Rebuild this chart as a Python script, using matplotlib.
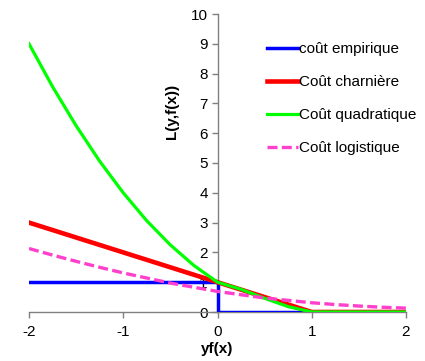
import matplotlib
matplotlib.use("Agg")
import matplotlib.pyplot as plt

plt.rcParams['font.family'] = ['Liberation Sans', 'DejaVu Sans']

# Data
x_emp = [-2, 0, 0, 2]
y_emp = [1, 1, 0, 0]

x_hinge = [-2, 0, 1, 2]
y_hinge = [3, 1, 0, 0]

x_quad = [-2, -1.75, -1.5, -1.25, -1, -0.75, -0.5, -0.25, 0, 0.25, 0.5, 0.75, 1, 1.5, 2]
y_quad = [9, 7.56, 6.25, 5.06, 4, 3.06, 2.25, 1.56, 1, 0.76, 0.46, 0.18, 0, 0, 0]

x_log = [-2, -1.75, -1.5, -1.25, -1, -0.75, -0.5, -0.25, 0, 0.25, 0.5, 0.75, 1, 1.25, 1.5, 1.75, 2]
y_log = [2.13, 1.91, 1.70, 1.50, 1.31, 1.14, 0.97, 0.83, 0.69, 0.58, 0.47, 0.39, 0.31, 0.25, 0.20, 0.16, 0.13]

labels = ["coût empirique", "Coût charnière", "Coût quadratique", "Coût logistique"]
x_ticks = [-2, -1, 0, 1, 2]
y_ticks = list(range(0, 11))

fig = plt.figure(figsize=(4.25, 3.61), dpi=100)
ax = fig.add_axes([29/425, 1-312/361, (406-29)/425, (312-14)/361])

ax.plot(x_emp, y_emp, color='#0000FF', lw=2.5, label=labels[0], zorder=3)
ax.plot(x_hinge, y_hinge, color='#FF0000', lw=3.3, label=labels[1], zorder=4)
ax.plot(x_quad, y_quad, color='#00FF00', lw=2.3, label=labels[2], zorder=5)
ax.plot(x_log, y_log, color='#FF40CC', lw=2.4, dashes=(3, 1.3), label=labels[3], zorder=6)

ax.set_xlim(-2, 2)
ax.set_ylim(0, 10)
ax.set_xticks(x_ticks)
ax.set_xticklabels([str(v) for v in x_ticks])
ax.set_yticks(y_ticks)
ax.set_yticklabels([str(v) for v in y_ticks])

ax.spines['left'].set_position(('data', 0))
ax.spines['right'].set_visible(False)
ax.spines['top'].set_visible(False)
for s in ('left', 'bottom'):
    ax.spines[s].set_color('#808080')
    ax.spines[s].set_linewidth(1.0)
ax.tick_params(axis='both', colors='#808080', labelcolor='black', labelsize=11,
               direction='out', length=4, width=1)
ax.tick_params(axis='x', pad=5)
ax.tick_params(axis='y', pad=3)
ax.patch.set_visible(False)

fig.text(172/425, 1-111/361, "L(y,f(x))", rotation=90, ha='center', va='center',
         fontsize=11, fontweight='bold')
fig.text(217/425, 1-349/361, "yf(x)", ha='center', va='center',
         fontsize=11, fontweight='bold')

leg = fig.legend(loc='upper left', bbox_to_anchor=(267/425, 1-42/361),
                 frameon=False, fontsize=11, handlelength=2.0, handletextpad=0.1,
                 labelspacing=1.25, borderpad=0, borderaxespad=0)

fig.savefig("out.png", dpi=100)
